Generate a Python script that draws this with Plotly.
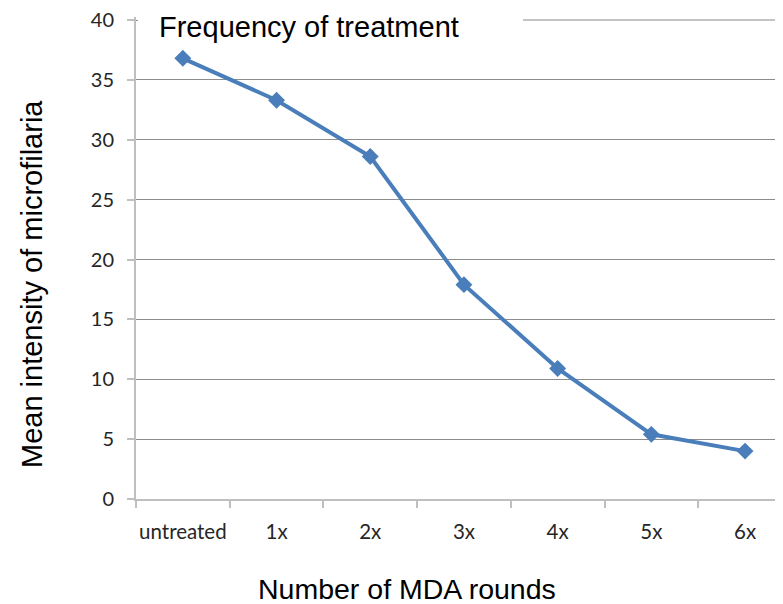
import plotly.graph_objects as go

categories = ["untreated", "1x", "2x", "3x", "4x", "5x", "6x"]
mean_intensity = [36.8, 33.3, 28.6, 17.9, 10.9, 5.4, 4.0]
y_ticks = [0, 5, 10, 15, 20, 25, 30, 35, 40]

OFF = 8  # page body margin
EXTRA = 3  # px of headroom above the 40 line
W, H = 783 - OFF, 604 - OFF
L, R, T, B = 136 - OFF, 0, 20 - OFF - EXTRA, 604 - 499
pw = W - L - R
ph = H - T - B
y_top = 40 * ph / (479.0)

def px_x(x):
    return (x - OFF - L) / pw

def px_y(y):
    return (H - B - (y - OFF)) / ph

fig = go.Figure()
fig.add_trace(go.Scatter(
    x=categories, y=mean_intensity, mode="lines+markers",
    line=dict(color="#4A7EBB", width=4),
    marker=dict(symbol="diamond", size=13, color="#4A7EBB"),
    showlegend=False, cliponaxis=False,
))

fig.update_layout(
    width=W, height=H,
    margin=dict(l=L, r=R, t=T, b=B),
    paper_bgcolor="white", plot_bgcolor="white",
    font=dict(family="Liberation Sans, Arial, sans-serif", color="#000000"),
    xaxis=dict(
        type="category", range=[-0.5, 6.405],
        showgrid=False, showline=True, linecolor="#BFBFBF", linewidth=2,
        ticks="outside", ticklen=7, tickcolor="#BFBFBF", tickwidth=2,
        tickson="boundaries", tickangle=0,
        tickfont=dict(family="Lato, sans-serif", size=20.5, color="#262626"),
        ticklabelstandoff=13,
    ),
    yaxis=dict(
        range=[0, y_top], tickvals=y_ticks,
        showgrid=True, gridcolor="#8C8C8C", gridwidth=1,
        showline=True, linecolor="#BFBFBF", linewidth=2,
        ticks="outside", ticklen=7, tickcolor="#BFBFBF", tickwidth=2,
        tickfont=dict(family="Lato, sans-serif", size=20, color="#262626"),
        ticklabelstandoff=9, zeroline=False, ticklabeloverflow="allow",
    ),
    shapes=[
        dict(type="rect", xref="paper", yref="paper",
             x0=px_x(138), x1=px_x(523), y0=px_y(26), y1=px_y(12),
             fillcolor="white", line=dict(width=0), layer="above"),
        dict(type="line", xref="paper", yref="y",
             x0=px_x(523), x1=1, y0=40, y1=40,
             line=dict(color="#C4C4C4", width=2), layer="above"),
    ],
    annotations=[
        dict(text="Frequency of treatment", xref="paper", yref="paper",
             x=px_x(157), y=px_y(27), xanchor="left", yanchor="middle",
             showarrow=False, font=dict(size=29, color="#000000")),
        dict(text="Mean intensity of microfilaria", xref="paper", yref="paper",
             x=px_x(32), y=px_y(284), xanchor="center", yanchor="middle",
             textangle=-90, showarrow=False, font=dict(size=29, color="#000000")),
        dict(text="Number of MDA rounds", xref="paper", yref="paper",
             x=px_x(407), y=px_y(589), xanchor="center", yanchor="middle",
             showarrow=False, font=dict(size=28.5, color="#000000")),
    ],
)

fig.write_html("out.html")
